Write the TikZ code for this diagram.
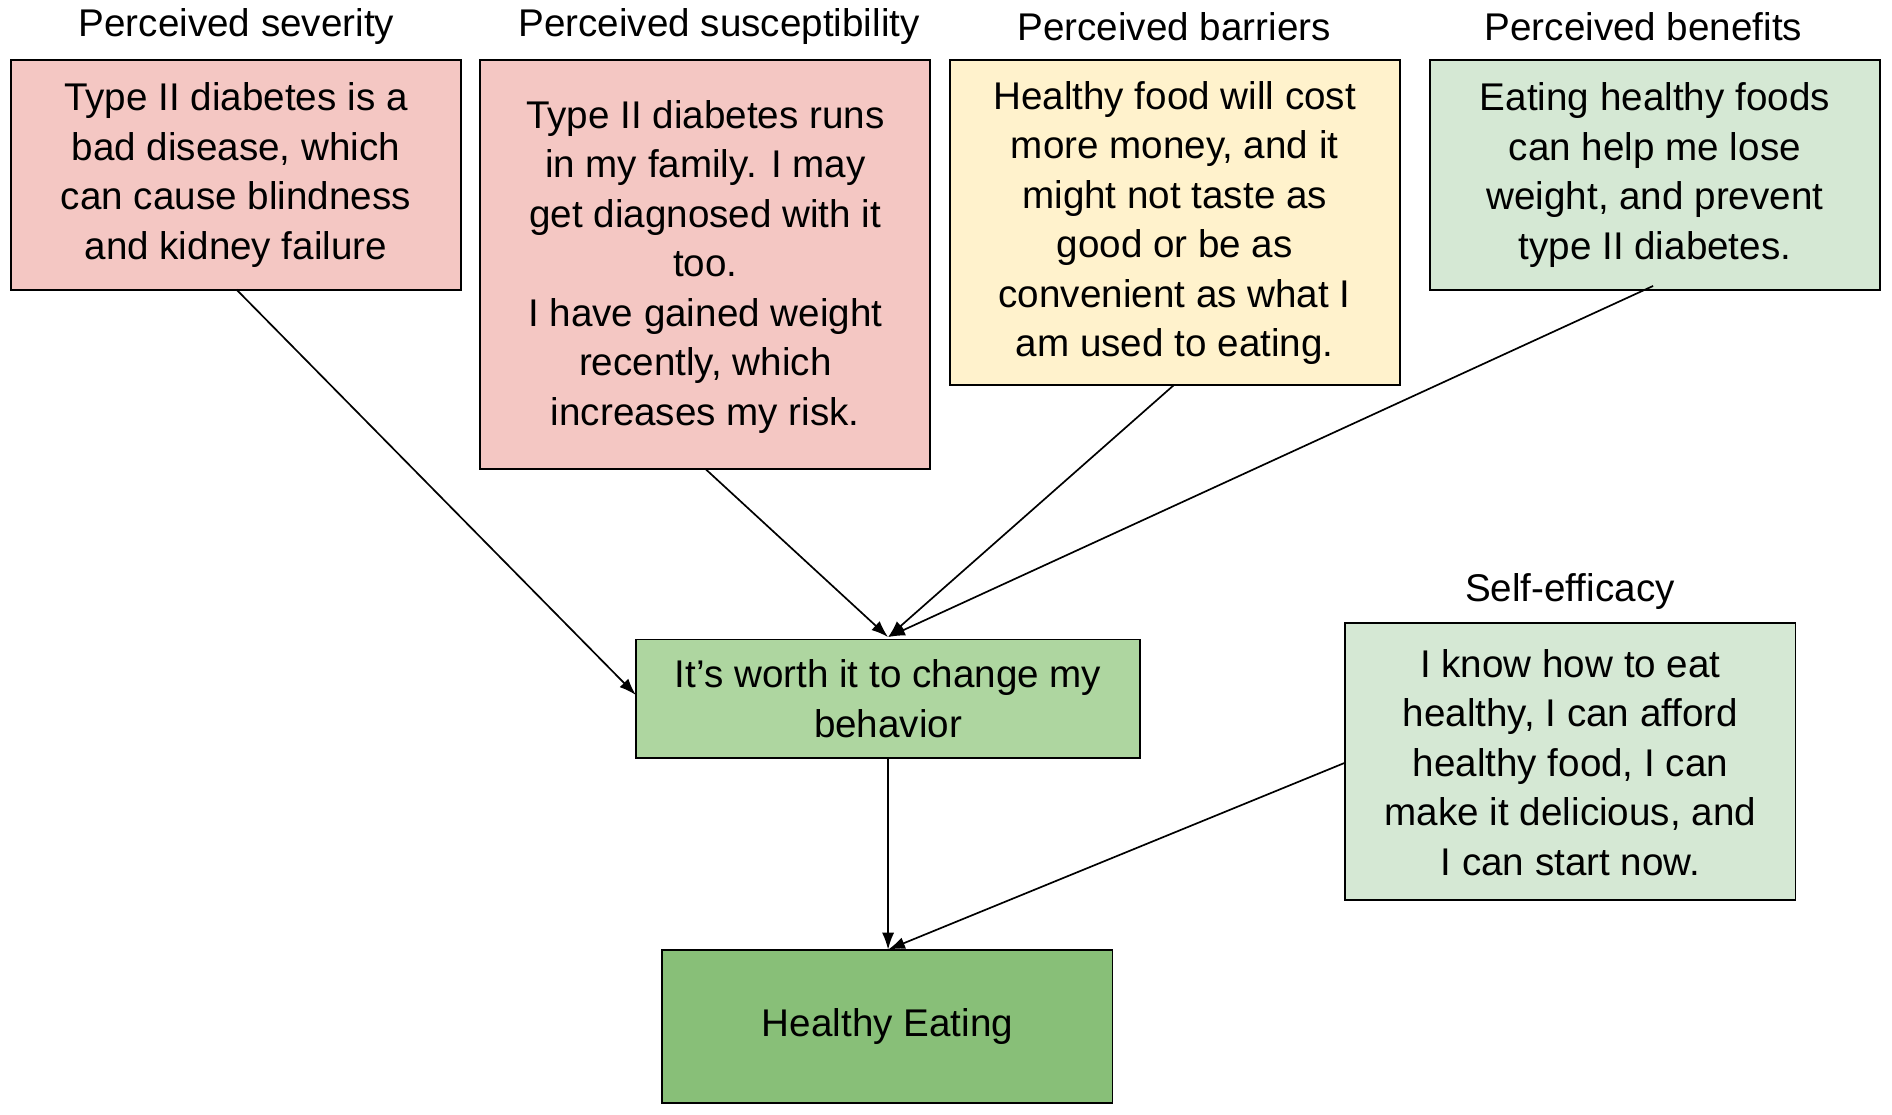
\documentclass[tikz,border=0pt]{standalone}
\usepackage{fontspec}
\setmainfont{Liberation Sans}
\usetikzlibrary{arrows.meta}
\begin{document}
\begin{tikzpicture}[x=0.5pt,y=-0.5pt,
  box/.style={draw,line width=0.8pt,align=center,font=\fontsize{16}{20.5}\selectfont},
  lab/.style={font=\fontsize{16}{20}\selectfont},
  arr/.style={-{Latex[length=7pt,width=5pt]},line width=0.7pt}]
\definecolor{pinkc}{HTML}{F4C7C3}
\definecolor{yelc}{HTML}{FFF2CC}
\definecolor{lgreen}{HTML}{D5E8D4}
\definecolor{mgreen}{HTML}{AED6A0}
\definecolor{dgreen}{HTML}{88BF78}
\useasboundingbox (0,0) rectangle (1568,924);
\path[box,fill=pinkc] (9,50) rectangle (382,240);
\node[box,draw=none] (a) at (195.5,145) {Type II diabetes is a\\bad disease, which\\can cause blindness\\and kidney failure};
\path[box,fill=pinkc] (398,50) rectangle (771,389);
\node[box,draw=none] (b) at (584.5,221) {Type II diabetes runs\\in my family. I may\\get diagnosed with it\\too.\\I have gained weight\\recently, which\\increases my risk.};
\path[box,fill=yelc] (787,50) rectangle (1160,319);
\node[box,draw=none] (c) at (973.5,185) {Healthy food will cost\\more money, and it\\might not taste as\\good or be as\\convenient as what I\\am used to eating.};
\path[box,fill=lgreen] (1185,50) rectangle (1558,240);
\node[box,draw=none] (d) at (1371.5,145) {Eating healthy foods\\can help me lose\\weight, and prevent\\type II diabetes.};
\path[box,fill=mgreen] (527,530) rectangle (945,628);
\node[box,draw=none] (w) at (736,579) {It’s worth it to change my\\behavior};
\path[box,fill=dgreen] (549,787) rectangle (922,914);
\node[box,draw=none] (h) at (735.5,851) {Healthy Eating};
\path[box,fill=lgreen] (1115,516) rectangle (1488,746);
\node[box,draw=none] (s) at (1301.5,632) {I know how to eat\\healthy, I can afford\\healthy food, I can\\make it delicious, and\\I can start now.};
\node[lab] (la) at (196,22) {Perceived severity};
\node[lab] (lb) at (596,22) {Perceived susceptibility};
\node[lab] (lc) at (973,22) {Perceived barriers};
\node[lab] (ld) at (1362,22) {Perceived benefits};
\node[lab] (ls) at (1301,490) {Self-efficacy};
\coordinate (a1) at (196,240); \coordinate (w1) at (527,576);
\coordinate (b1) at (585,389); \coordinate (wt) at (736,528);
\coordinate (c1) at (973,319); \coordinate (d1) at (1370,237);
\coordinate (wb) at (736,628); \coordinate (ht) at (736,787);
\coordinate (s1) at (1115,632);
\draw[arr] (a1) -- (w1);
\draw[arr] (b1) -- (wt);
\draw[arr] (c1) -- (wt);
\draw[arr] (d1) -- (wt);
\draw[arr] (wb) -- (ht);
\draw[arr] (s1) -- (ht);
\end{tikzpicture}
\end{document}
